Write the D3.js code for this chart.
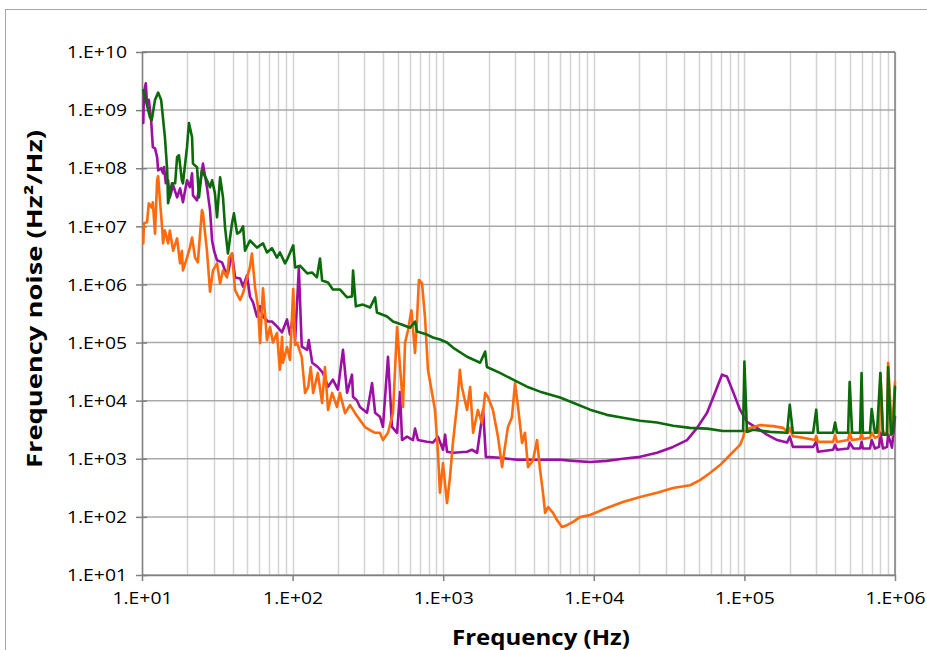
<!DOCTYPE html>
<html><head><meta charset="utf-8">
<script src="https://cdn.jsdelivr.net/npm/d3@7"></script>
<style>body{margin:0;background:#fff;} svg{display:block}</style>
</head><body>
<svg id="chart" width="927" height="650"></svg>
<script>
// ---- data: [frequency Hz, frequency noise Hz^2/Hz] ----
const seriesGreen = [
[10.2,2.2e9],[11.3,7.5e8],[11.6,6.7e8],[12.2,1.5e9],[12.8,2.0e9],[13.4,1.5e9],[14.2,3.4e8],[14.7,9.2e7],[14.9,2.5e7],
[15.8,5.5e7],[16.6,5.5e7],[17.1,1.55e8],[17.6,1.67e8],[18.4,6.2e7],[18.7,5.5e7],[19.9,2.3e8],[20.5,6.0e8],[21.5,3.4e8],
[21.8,1.2e8],[23.2,1.04e8],[23.9,3.15e7],[25.0,9.2e7],[27.0,6.2e7],[28.3,4.7e7],[29.2,6.2e7],[30.5,3.7e7],[31.5,1.43e7],
[33.0,7.0e7],[34.5,3.15e7],[35.6,9.6e6],[37.2,3.4e6],[39.6,1.13e7],[40.8,1.67e7],[42.8,7.5e6],[44.8,8.0e6],[46.9,1.0e7],
[48.3,3.8e6],[52.1,5.7e6],[58.0,4.3e6],[63.6,5.1e6],[67.6,3.55e6],[72.9,4.2e6],[78.7,2.9e6],[82.4,3.55e6],[89.1,2.3e6],
[93.2,2.9e6],[101,4.7e6],[104,1.96e6],[112,2.1e6],[125,1.55e6],[135,1.6e6],[145,1.32e6],[152,2.8e6],[157,1.17e6],
[172,1.08e6],[185,8.2e5],[206,8.2e5],[230,6.0e5],[248,6.2e5],[252,1.74e6],[263,4.2e5],[293,4.5e5],[327,4.0e5],[353,6.0e5],
[363,3.3e5],[424,2.8e5],[464,2.3e5],[541,2.0e5],[602,1.8e5],[650,2.3e5],[670,1.55e5],[780,1.37e5],[855,1.22e5],[952,1.13e5],
[1060,1.0e5],[1160,8.2e4],[1440,5.7e4],[1760,4.5e4],[1900,7.0e4],[1950,3.8e4],[2380,3.0e4],[2910,2.3e4],[3600,1.74e4],
[4400,1.43e4],[5970,1.13e4],[7280,9.2e3],[9440,7.0e3],[12200,5.7e3],[15600,5.1e3],[20300,4.5e3],[26300,4.2e3],[33600,3.7e3],
[43600,3.4e3],[56500,3.3e3],[72100,3.0e3],[93500,3.0e3],[98000,3.0e3],[100000,4.7e4],[104000,2.9e3],[114000,3.15e3],
[148000,2.9e3],[192000,2.8e3],[200000,8.5e3],[210000,2.8e3],[286000,2.8e3],[300000,7.0e3],[308000,2.8e3],[388000,2.8e3],
[400000,4.2e3],[412000,2.8e3],[488000,2.8e3],[500000,2.1e4],[519000,2.8e3],[586000,2.8e3],[600000,3.0e4],[612000,2.8e3],
[682000,2.8e3],[700000,7.2e3],[736000,2.8e3],[759000,2.8e3],[800000,3.0e4],[832000,2.6e3],[885000,2.6e3],[900000,3.8e4],
[940000,2.6e3],[970000,2.8e3],[1000000,1.74e4]
];
const seriesPurple = [
[10.2,6.0e8],[10.3,2.0e9],[10.6,2.9e9],[10.8,1.3e9],[11.1,1.5e9],[11.5,6.7e8],[11.8,2.3e8],[12.2,2.2e8],[12.6,1.55e8],
[12.8,9.2e7],[13.4,1.0e8],[13.8,8.2e7],[14.0,1.05e8],[14.4,5.5e7],[14.9,6.2e7],[15.3,3.15e7],[16.1,5.1e7],[17.1,3.15e7],
[17.9,4.5e7],[18.7,2.6e7],[19.9,6.2e7],[20.8,4.7e7],[21.5,8.2e7],[21.8,3.4e7],[23.2,2.8e7],[24.3,5.5e7],[25.4,1.2e8],
[27.0,4.7e7],[28.3,1.9e7],[29.2,5.7e6],[30.1,3.8e6],[31.5,2.6e6],[34.0,2.4e6],[35.6,1.74e6],[37.2,1.55e6],[39.6,3.4e6],
[41.5,1.32e6],[44.8,1.27e6],[46.9,9.2e5],[49.8,1.43e6],[52.1,6.2e5],[54.6,4.9e5],[58.0,2.8e5],[60.8,4.2e5],[63.6,2.8e5],
[68.7,2.3e5],[72.9,2.3e5],[78.7,1.9e5],[85.1,1.5e5],[91.8,2.5e5],[96.1,1.37e5],[101,3.0e5],[104,1.13e5],[110,1.9e6],
[115,8.5e4],[125,7.5e4],[128,1.1e5],[135,4.5e4],[147,3.8e4],[159,3.0e4],[172,1.74e4],[185,2.3e4],[200,1.55e4],[216,7.5e4],
[230,1.37e4],[248,2.8e4],[252,1.17e4],[268,1.0e4],[280,7.8e3],[312,6.2e3],[337,2.0e4],[353,6.2e3],[380,5.3e3],[398,3.55e3],
[430,5.7e4],[457,3.55e3],[494,2.8e3],[517,1.4e4],[533,2.1e3],[575,2.4e3],[630,2.1e3],[650,3.3e3],[680,2.1e3],[780,1.96e3],
[855,1.9e3],[923,2.4e3],[997,1.43e3],[1030,2.6e3],[1060,1.32e3],[1160,1.27e3],[1440,1.32e3],[1550,1.43e3],[1680,1.27e3],
[1840,7.0e3],[1920,1.08e3],[2380,1.04e3],[3090,9.6e2],[3950,9.6e2],[5970,9.6e2],[7280,9.2e2],[9440,8.8e2],[12200,9.2e2],
[15600,1.0e3],[20300,1.08e3],[26300,1.27e3],[33600,1.6e3],[41600,2.1e3],[48500,3.4e3],[56500,6.2e3],[63800,1.37e4],
[71000,2.8e4],[76600,2.6e4],[84000,1.43e4],[93500,7.0e3],[104000,4.3e3],[121000,3.4e3],[141000,2.6e3],[165000,2.1e3],
[192000,1.9e3],[200000,2.4e3],[210000,1.6e3],[286000,1.6e3],[300000,1.96e3],[308000,1.32e3],[388000,1.43e3],[400000,1.74e3],
[412000,1.43e3],[488000,1.5e3],[500000,1.9e3],[530000,1.5e3],[586000,1.5e3],[600000,1.96e3],[612000,1.5e3],[682000,1.5e3],
[700000,2.1e3],[736000,1.5e3],[783000,1.6e3],[800000,2.8e3],[832000,1.5e3],[885000,1.6e3],[900000,2.6e3],[955000,1.55e3],
[1000000,5.3e3]
];
const seriesOrange = [
[10.2,5.1e6],[10.3,1.13e7],[10.8,1.17e7],[11.1,2.5e7],[11.6,2.1e7],[11.8,2.6e7],[12.2,7.5e6],[12.6,6.2e7],[12.8,7.3e7],
[13.2,2.5e7],[13.6,9.6e6],[13.8,5.1e6],[14.2,8.5e6],[14.9,5.1e6],[15.3,8.5e6],[16.1,3.8e6],[17.1,6.2e6],[17.9,2.3e6],
[18.4,3.8e6],[18.7,1.74e6],[19.9,2.9e6],[20.8,4.3e6],[21.5,6.4e6],[22.5,2.9e6],[23.5,2.4e6],[25.0,1.9e7],[25.4,1.67e7],
[27.0,3.8e6],[28.3,7.5e5],[29.6,1.74e6],[31.5,2.3e6],[33.0,1.04e6],[34.5,1.74e6],[36.7,1.32e6],[37.8,2.9e6],[39.6,3.4e6],
[41.5,8.0e5],[44.8,5.4e5],[46.9,7.1e5],[49.8,1.3e6],[52.1,2.0e6],[53.7,3.4e6],[56.3,9.0e5],[58.9,4.1e5],[60.8,9.8e4],
[63.6,8.6e5],[67.6,1.1e5],[70.8,1.85e5],[74.1,1.0e5],[78.7,1.46e5],[82.4,3.4e4],[85.1,1.25e5],[86.3,4.5e4],[91.8,8.4e4],
[96.1,5.0e4],[101,8.3e5],[104,9.1e4],[107,1.0e5],[115,5.6e4],[121,1.36e4],[127,1.72e4],[132,3.8e4],[137,1.36e4],[147,3.0e4],
[157,9.1e3],[164,3.8e4],[172,6.9e3],[183,1.36e4],[197,7.8e3],[206,1.36e4],[223,6.1e3],[241,8.4e3],[260,6.1e3],[280,4.65e3],
[303,3.5e3],[327,3.1e3],[353,2.8e3],[380,2.8e3],[398,2.1e3],[430,2.8e3],[464,6.1e3],[494,1.85e5],[517,3.8e4],[541,7.8e3],
[558,9.8e4],[584,1.65e5],[615,3.6e5],[650,6.6e4],[670,2.45e5],[690,1.19e6],[723,1.06e6],[757,2.75e5],[792,3.4e4],
[843,1.36e4],[882,6.9e3],[923,1.26e3],[952,2.6e2],[997,8.4e2],[1060,1.73e2],[1110,4.9e2],[1160,1.87e3],[1240,9.1e3],
[1290,3.4e4],[1330,1.72e4],[1440,6.9e3],[1510,1.72e4],[1580,2.8e3],[1700,6.9e3],[1810,4.1e3],[1900,1.36e4],[1980,1.16e4],
[2140,6.9e3],[2310,2.4e3],[2460,7.2e2],[2570,1.6e3],[2690,3.5e3],[2860,5.2e3],[3000,2.0e4],[3140,7.8e3],[3340,1.87e3],
[3490,2.8e3],[3660,7.2e2],[3950,9.5e2],[4200,2.1e3],[4400,6.4e2],[4600,2.6e2],[4750,1.17e2],[4970,1.48e2],[5360,1.17e2],
[5700,8.8e1],[6150,6.7e1],[6640,7.2e1],[7280,8.2e1],[8100,9.9e1],[9440,1.08e2],[12200,1.42e2],[15600,1.8e2],[20300,2.2e2],
[26300,2.6e2],[33600,3.15e2],[43600,3.5e2],[50700,4.3e2],[59100,5.7e2],[68900,7.8e2],[80200,1.16e3],[93500,1.73e3],
[97900,2.3e3],[100000,2.9e3],[109000,3.4e3],[114000,3.5e3],[127000,3.8e3],[155000,3.65e3],[181000,3.4e3],[195000,2.8e3],
[200000,3.4e3],[210000,2.45e3],[245000,2.3e3],[294000,2.1e3],[300000,2.45e3],[308000,1.95e3],[388000,1.95e3],[400000,2.55e3],
[412000,1.95e3],[488000,2.1e3],[500000,2.8e3],[519000,2.1e3],[586000,2.2e3],[600000,2.8e3],[612000,2.2e3],[682000,2.3e3],
[700000,2.8e3],[736000,2.3e3],[783000,2.45e3],[800000,3.0e4],[832000,2.9e3],[885000,2.6e3],[900000,4.5e4],[955000,2.55e3],
[1000000,2.1e4]
];
const xTickValues = [1e1,1e2,1e3,1e4,1e5,1e6];
const xTickLabels = ["1.E+01","1.E+02","1.E+03","1.E+04","1.E+05","1.E+06"];
const yTickValues = [1e1,1e2,1e3,1e4,1e5,1e6,1e7,1e8,1e9,1e10];
const yTickLabels = ["1.E+01","1.E+02","1.E+03","1.E+04","1.E+05","1.E+06","1.E+07","1.E+08","1.E+09","1.E+10"];
const xTitle = "Frequency (Hz)";
const yTitle = "Frequency noise (Hz\u00B2/Hz)";

// ---- drawing ----
const svg = d3.select("#chart");
const L = 142, R = 895, T = 52, B = 575;
const x = d3.scaleLog().domain([10, 1e6]).range([L, R]);
const y = d3.scaleLog().domain([10, 1e10]).range([B, T]);
const FONT = "'Open Sans', 'Noto Sans', sans-serif";

// outer chart border
svg.append("rect").attr("x", 5.5).attr("y", 9.5).attr("width", 940).attr("height", 660)
  .attr("fill", "none").attr("stroke", "#a6a6a6").attr("stroke-width", 1);

// vertical minor gridlines
const vGrid = [];
for (let e = 1; e < 6; e++) for (let k = 1; k <= 9; k++) vGrid.push(k * Math.pow(10, e));
vGrid.push(1e6);
svg.append("g").selectAll("line").data(vGrid).join("line")
  .attr("x1", d => Math.round(x(d)) + 0.5).attr("x2", d => Math.round(x(d)) + 0.5)
  .attr("y1", T).attr("y2", B)
  .attr("stroke", "#d4d4d4").attr("stroke-width", 1.5);

// horizontal major gridlines
svg.append("g").selectAll("line").data(yTickValues).join("line")
  .attr("x1", L).attr("x2", R)
  .attr("y1", d => y(d)).attr("y2", d => y(d))
  .attr("stroke", "#a9a9a9").attr("stroke-width", 1.5);

// plot border (top/right)
svg.append("line").attr("x1", L).attr("x2", R).attr("y1", T).attr("y2", T).attr("stroke", "#808080").attr("stroke-width", 1.5);
svg.append("line").attr("x1", R).attr("x2", R).attr("y1", T).attr("y2", B).attr("stroke", "#808080").attr("stroke-width", 1.5);

// axes
const yAxis = d3.axisLeft(y).tickValues(yTickValues).tickFormat((d, i) => yTickLabels[i]).tickSizeInner(6).tickSizeOuter(0).tickPadding(9);
const gy = svg.append("g").attr("transform", `translate(${L},0)`).call(yAxis);
gy.select(".domain").attr("stroke", "#808080").attr("stroke-width", 1.5);
gy.selectAll(".tick line").attr("stroke", "#808080").attr("stroke-width", 1.5).attr("x1", 5);
gy.selectAll(".tick text").attr("font-family", FONT).attr("font-size", 16).attr("fill", "#000")
  .attr("textLength", 60).attr("lengthAdjust", "spacingAndGlyphs").attr("dy", "0.36em");

const xAxis = d3.axisBottom(x).tickValues(xTickValues).tickFormat((d, i) => xTickLabels[i]).tickSizeInner(6).tickSizeOuter(0).tickPadding(12);
const gx = svg.append("g").attr("transform", `translate(0,${B})`).call(xAxis);
gx.select(".domain").attr("stroke", "#808080").attr("stroke-width", 1.5);
gx.selectAll(".tick line").attr("stroke", "#808080").attr("stroke-width", 1.5);
gx.selectAll(".tick text").attr("font-family", FONT).attr("font-size", 16).attr("fill", "#000")
  .attr("textLength", 60).attr("lengthAdjust", "spacingAndGlyphs");

// series lines
const line = d3.line().x(d => x(d[0])).y(d => y(d[1]));
const series = [
  {data: seriesPurple, color: "#9c0fa3"},
  {data: seriesOrange, color: "#ff6a0c"},
  {data: seriesGreen, color: "#0b6b0b"}
];
svg.append("g").selectAll("path").data(series).join("path")
  .attr("d", d => line(d.data))
  .attr("fill", "none").attr("stroke", d => d.color)
  .attr("stroke-width", 2.6).attr("stroke-linejoin", "round").attr("stroke-linecap", "round");

// titles
svg.append("text").attr("x", 541).attr("y", 645).attr("text-anchor", "middle")
  .attr("font-family", FONT).attr("font-weight", "bold").attr("font-size", 21).attr("fill", "#000")
  .attr("textLength", 178).attr("lengthAdjust", "spacingAndGlyphs").text(xTitle);
svg.append("text").attr("transform", "translate(42,299) rotate(-90)").attr("text-anchor", "middle")
  .attr("font-family", FONT).attr("font-weight", "bold").attr("font-size", 21).attr("fill", "#000")
  .attr("textLength", 338).attr("lengthAdjust", "spacingAndGlyphs").text(yTitle);
</script>
</body></html>
